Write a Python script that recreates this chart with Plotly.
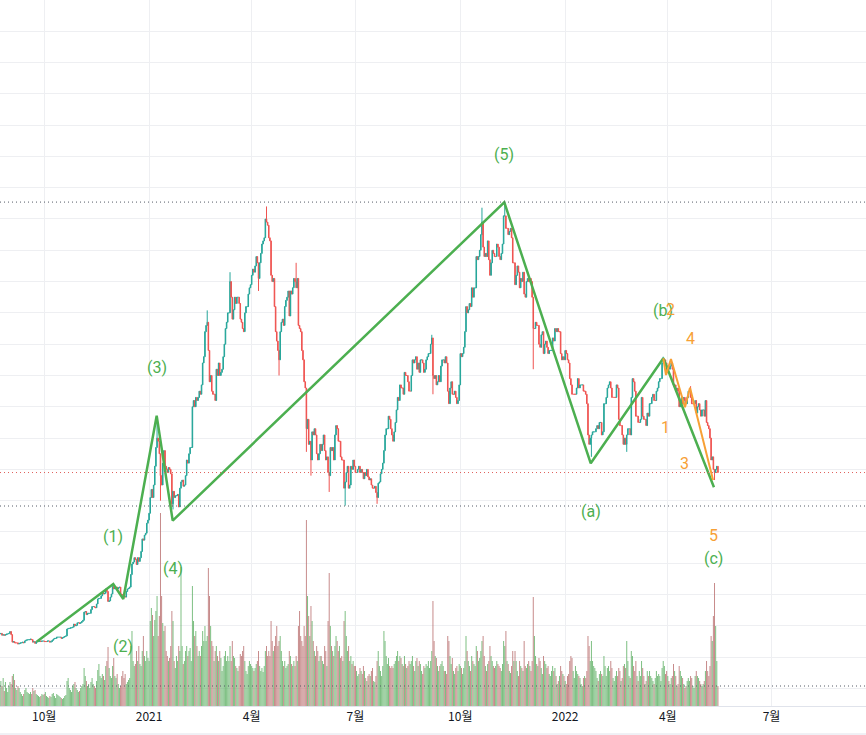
import pandas as pd
import plotly.graph_objects as go

# ---------------- data (BTC/KRW daily, millions of KRW) ----------------
close_months = [
    ("2020-08-22", [13.8, 13.7, 13.8, 13.5, 13.6, 13.5, 13.6, 13.7, 13.7, 13.8]),
    ("2020-09-01", [14.1, 13.6, 12.4, 12.5, 12.3, 12.3, 12.3, 12.1, 12.2, 12.3,
                    12.3, 12.4, 12.3, 12.6, 12.7, 12.8, 12.8, 12.8, 12.9, 12.8,
                    12.4, 12.5, 12.2, 12.5, 12.5, 12.5, 12.6, 12.5, 12.6, 12.6]),
    ("2020-10-01", [12.5, 12.5, 12.5, 12.6, 12.6, 12.4, 12.5, 12.7, 12.9, 13.0,
                    13.0, 13.2, 13.2, 13.2, 13.2, 13.0, 13.1, 13.2, 13.3, 13.4,
                    14.5, 14.6, 14.6, 14.7, 14.7, 14.8, 15.3, 15.0, 15.1, 15.5, 15.5]),
    ("2020-11-01", [15.4, 15.5, 15.7, 15.9, 17.2, 17.3, 16.8, 17.0, 17.0, 17.0,
                    17.6, 18.1, 18.1, 18.0, 17.9, 18.5, 19.3, 19.4, 19.4, 19.8,
                    20.3, 20.1, 20.2, 20.9, 20.5, 18.9, 19.0, 19.6, 20.1, 21.3]),
    ("2020-12-01", [20.9, 21.1, 21.2, 20.9, 21.1, 21.2, 20.1, 20.0, 19.9, 19.7,
                    19.6, 20.5, 20.9, 21.0, 21.2, 23.2, 24.9, 25.2, 25.9, 25.6,
                    24.8, 25.9, 25.3, 25.9, 26.9, 28.9, 28.7, 29.5, 29.8, 31.4, 31.9]),
    ("2021-01-01", [33.0, 35.5, 36.8, 35.5, 37.5, 40.5, 43.5, 45.0, 44.5, 42.5,
                    39.0, 37.5, 41.0, 43.0, 40.5, 40.0, 39.5, 40.3, 40.0, 39.3,
                    34.5, 36.5, 35.5, 35.8, 35.8, 36.0, 34.0, 37.0, 38.0, 38.3, 37.3]),
    ("2021-02-01", [37.5, 39.0, 41.5, 41.0, 42.5, 43.5, 43.5, 50.0, 51.0, 50.0,
                    51.5, 51.0, 51.5, 52.5, 52.0, 53.5, 57.0, 58.0, 62.0, 63.0,
                    63.5, 59.0, 54.0, 55.0, 52.5, 52.0, 52.0, 51.0]),
    ("2021-03-01", [56.0, 55.0, 57.0, 55.0, 55.5, 56.0, 58.0, 60.0, 62.5, 63.5,
                    65.0, 65.0, 70.0, 67.5, 64.0, 65.5, 67.5, 66.5, 67.5, 67.5,
                    66.5, 64.0, 63.5, 62.5, 62.0, 65.0, 66.0, 66.0, 68.0, 69.0, 69.5]),
    ("2021-04-01", [71.0, 72.0, 71.5, 72.5, 74.0, 73.0, 70.5, 73.0, 74.5, 76.0,
                    76.5, 77.0, 80.0, 79.5, 79.0, 77.0, 76.5, 71.0, 70.0, 70.5,
                    66.0, 62.0, 60.5, 59.0, 57.5, 62.0, 63.5, 64.0, 63.0, 66.0]),
    ("2021-05-01", [67.0, 67.5, 68.5, 64.5, 68.5, 68.0, 69.0, 70.5, 70.0, 69.0,
                    70.5, 63.0, 62.5, 62.0, 59.0, 57.5, 54.0, 53.0, 46.5, 48.0,
                    44.0, 44.5, 41.5, 46.0, 45.5, 46.5, 45.5, 42.5, 41.5, 42.5, 44.0]),
    ("2021-06-01", [43.0, 44.0, 45.5, 43.0, 41.5, 42.0, 39.5, 39.0, 43.5, 43.0,
                    43.5, 41.5, 45.5, 47.0, 46.5, 44.5, 44.5, 42.0, 41.5, 41.5,
                    37.0, 38.0, 39.5, 40.5, 37.0, 37.5, 40.5, 40.0, 41.5, 40.5]),
    ("2021-07-01", [39.5, 39.5, 40.0, 40.5, 39.5, 40.0, 39.5, 38.5, 39.5, 39.0,
                    40.0, 38.8, 38.3, 38.5, 37.5, 37.0, 37.0, 37.3, 36.3, 35.5,
                    37.8, 38.0, 39.3, 40.0, 41.0, 43.0, 45.5, 46.5, 46.5, 48.5, 48.0]),
    ("2021-08-01", [46.5, 45.5, 44.5, 46.0, 47.5, 49.5, 51.5, 51.0, 53.5, 53.0,
                    53.0, 52.0, 55.5, 55.0, 55.0, 54.0, 52.5, 52.5, 55.0, 57.5,
                    57.0, 57.5, 58.0, 56.0, 57.0, 55.5, 57.5, 57.5, 57.0, 55.5, 56.0]),
    ("2021-09-01", [57.5, 58.0, 58.5, 58.5, 60.0, 61.0, 55.0, 54.5, 55.0, 53.5,
                    54.0, 55.0, 54.0, 56.5, 57.5, 57.5, 57.0, 58.0, 57.0, 52.5,
                    50.5, 53.0, 54.0, 52.0, 52.0, 52.5, 51.5, 50.5, 51.0, 53.5]),
    ("2021-10-01", [58.5, 58.0, 58.5, 59.5, 62.0, 66.0, 65.0, 65.5, 66.5, 66.0,
                    69.0, 67.5, 69.0, 69.0, 74.0, 73.5, 74.0, 75.0, 77.5, 79.5,
                    75.5, 74.0, 74.5, 74.0, 76.5, 73.5, 71.0, 73.0, 75.0, 74.5, 74.0]),
    ("2021-11-01", [74.0, 76.0, 75.5, 74.0, 73.5, 74.5, 76.0, 80.5, 80.5, 78.5,
                    78.5, 77.5, 78.0, 78.5, 77.0, 73.0, 73.0, 69.5, 71.0, 72.5,
                    71.5, 69.0, 70.5, 70.0, 71.5, 68.0, 67.5, 70.0, 70.5, 70.0]),
    ("2021-12-01", [70.5, 70.0, 67.5, 62.5, 62.5, 63.5, 63.0, 63.0, 60.0, 59.5,
                    61.5, 62.0, 58.5, 60.0, 60.5, 59.5, 58.5, 59.0, 59.0, 59.0,
                    61.0, 60.5, 62.5, 62.0, 62.5, 62.0, 62.0, 58.5, 57.5, 58.0, 57.5]),
    ("2022-01-01", [59.0, 58.5, 57.5, 57.0, 54.5, 53.5, 52.0, 52.0, 52.0, 52.0,
                    53.0, 54.5, 53.0, 53.5, 53.5, 53.5, 52.5, 52.5, 52.0, 50.5,
                    45.5, 44.0, 45.0, 45.5, 46.0, 46.0, 46.0, 46.5, 47.0, 46.5, 47.5]),
    ("2022-02-01", [47.5, 45.5, 46.0, 50.5, 50.5, 51.5, 53.0, 53.5, 54.0, 53.0,
                    51.5, 51.5, 51.5, 51.5, 53.5, 53.0, 48.0, 47.0, 47.0, 45.5,
                    44.0, 45.0, 44.0, 45.5, 46.5, 46.5, 45.5, 51.5]),
    ("2022-03-01", [54.5, 54.0, 52.5, 48.5, 48.5, 47.5, 47.5, 48.0, 51.5, 48.5,
                    48.0, 48.0, 47.0, 49.0, 48.5, 50.5, 50.5, 51.5, 52.0, 51.0,
                    51.0, 52.5, 53.0, 54.0, 54.5, 54.5, 57.0, 57.5, 57.5, 57.0, 55.5]),
    ("2022-04-01", [56.5, 56.0, 56.5, 57.0, 56.0, 53.5, 53.5, 52.5, 53.0, 52.5,
                    50.0, 50.5, 51.5, 50.5, 51.5, 51.0, 50.5, 51.5, 52.5, 52.5,
                    51.5, 50.5, 50.5, 50.5, 51.0, 49.0, 50.0, 50.5, 49.5, 48.5]),
    ("2022-05-01", [49.5, 49.5, 48.5, 51.0, 47.5, 47.0, 46.5, 45.0, 41.5, 42.0,
                    40.0, 39.5, 40.0, 40.5, 39.5]),
]
first_open = 13.9

# daily volume (hundreds of BTC)
volume_months = [
    ("2020-08-22", [22, 18, 25, 20, 28, 15, 24, 18, 14, 20]),
    ("2020-09-01", [24, 22, 30, 32, 26, 18, 16, 20, 18, 14, 12, 10, 12, 16, 18,
                    14, 13, 12, 14, 12, 18, 15, 16, 12, 11, 10, 9, 10, 12, 11]),
    ("2020-10-01", [12, 14, 10, 9, 8, 10, 9, 12, 13, 10, 8, 12, 11, 10, 9, 8,
                    7, 8, 10, 11, 25, 28, 18, 16, 14, 20, 22, 24, 18, 16, 14]),
    ("2020-11-01", [15, 18, 20, 22, 38, 30, 25, 20, 22, 18, 24, 28, 22, 20, 18,
                    25, 36, 42, 30, 28, 32, 30, 26, 40, 45, 59, 38, 30, 28, 40]),
    ("2020-12-01", [48, 30, 28, 32, 22, 18, 20, 30, 35, 28, 32, 22, 24, 26, 28,
                    60, 75, 45, 40, 42, 55, 45, 60, 42, 40, 55, 70, 50, 45, 55, 48]),
    ("2021-01-01", [45, 85, 98, 91, 70, 86, 95, 110, 70, 90, 193, 110, 83, 75, 80,
                    55, 50, 45, 48, 60, 95, 85, 45, 38, 50, 45, 60, 55, 139, 60, 42]),
    ("2021-02-01", [45, 55, 60, 50, 55, 58, 45, 120, 85, 70, 75, 60, 50, 55,
                    50, 60, 75, 65, 80, 65, 70, 138, 110, 80, 65, 60, 45, 55]),
    ("2021-03-01", [60, 50, 45, 55, 48, 35, 40, 50, 55, 45, 50, 45, 60, 45, 65,
                    50, 48, 40, 38, 35, 40, 52, 50, 55, 60, 45, 35, 32, 40, 45, 42]),
    ("2021-04-01", [40, 38, 35, 38, 42, 45, 55, 40, 35, 38, 34, 40, 55, 60, 50,
                    55, 50, 85, 65, 55, 60, 70, 80, 60, 65, 70, 55, 45, 40, 45]),
    ("2021-05-01", [38, 40, 42, 55, 50, 42, 40, 45, 40, 50, 45, 80, 95, 70, 65,
                    60, 80, 70, 186, 110, 90, 70, 100, 85, 65, 55, 50, 60, 55, 45, 50]),
    ("2021-06-01", [50, 45, 42, 60, 55, 40, 85, 133, 80, 60, 55, 50, 60, 70, 65,
                    55, 60, 48, 50, 45, 85, 95, 70, 55, 60, 45, 50, 42, 45, 40]),
    ("2021-07-01", [40, 35, 30, 32, 38, 35, 32, 40, 35, 28, 25, 30, 32, 30, 35,
                    38, 25, 24, 30, 45, 55, 40, 35, 30, 40, 75, 65, 50, 42, 48, 40]),
    ("2021-08-01", [38, 40, 38, 42, 45, 50, 55, 45, 50, 48, 42, 40, 50, 42, 38,
                    40, 45, 42, 45, 50, 40, 35, 45, 48, 40, 45, 42, 35, 32, 40, 38]),
    ("2021-09-01", [42, 40, 45, 38, 45, 55, 105, 65, 50, 48, 40, 35, 40, 42, 45,
                    40, 35, 35, 32, 70, 65, 50, 42, 48, 35, 32, 38, 40, 35, 42]),
    ("2021-10-01", [40, 38, 32, 38, 45, 70, 55, 45, 40, 35, 50, 45, 42, 40, 60,
                    55, 45, 48, 55, 65, 70, 50, 40, 35, 42, 45, 60, 50, 45, 40, 38]),
    ("2021-11-01", [40, 45, 42, 40, 38, 35, 42, 65, 60, 75, 45, 42, 35, 33, 40,
                    55, 45, 55, 45, 35, 30, 45, 40, 38, 35, 65, 40, 38, 42, 45]),
    ("2021-12-01", [40, 35, 45, 109, 70, 50, 42, 40, 48, 45, 38, 32, 50, 45, 42,
                    38, 40, 32, 30, 35, 40, 35, 38, 30, 22, 25, 30, 40, 35, 32, 30]),
    ("2022-01-01", [25, 22, 30, 32, 45, 50, 48, 35, 28, 40, 35, 32, 30, 28, 22,
                    20, 28, 30, 28, 35, 70, 60, 45, 65, 45, 40, 38, 35, 28, 25, 32]),
    ("2022-02-01", [35, 32, 30, 50, 40, 30, 38, 40, 35, 45, 38, 28, 25, 30,
                    35, 30, 38, 35, 25, 28, 40, 42, 38, 65, 45, 30, 28, 55]),
    ("2022-03-01", [50, 40, 35, 45, 30, 25, 35, 30, 45, 38, 30, 22, 25, 35, 30,
                    35, 30, 28, 25, 22, 28, 35, 30, 32, 30, 25, 38, 45, 40, 32, 35]),
    ("2022-04-01", [30, 25, 22, 28, 30, 42, 35, 30, 20, 22, 40, 35, 30, 28, 22,
                    18, 20, 25, 28, 25, 30, 28, 20, 18, 30, 35, 30, 28, 25, 22]),
    ("2022-05-01", [20, 22, 25, 35, 45, 35, 30, 40, 70, 65, 90, 123, 80, 45, 20]),
]

# intraday extremes that reach beyond the candle bodies
wick_high = {"2021-01-08": 48.3, "2021-02-21": 65.4, "2021-03-13": 71.5,
             "2021-04-14": 82.0, "2021-05-10": 73.0, "2021-09-06": 61.5,
             "2021-10-20": 81.8, "2021-11-09": 82.7, "2022-03-28": 58.0,
             "2022-04-21": 53.3}
wick_low = {"2021-01-11": 35.0, "2021-01-21": 34.0, "2021-01-22": 33.6,
            "2021-04-07": 68.5, "2021-04-25": 55.0, "2021-05-19": 42.8,
            "2021-05-23": 39.0, "2021-06-08": 36.4, "2021-06-22": 34.2,
            "2021-07-20": 34.5, "2021-09-07": 52.0, "2021-12-04": 56.0,
            "2022-01-24": 42.0, "2022-02-24": 42.8, "2022-05-12": 38.3}

support_level = 34.15

tick_dates = ["2020-10-01", "2021-01-01", "2021-04-01", "2021-07-01", "2021-10-01",
              "2022-01-01", "2022-04-01", "2022-07-01", "2022-10-01"]
tick_labels = ["10월", "2021", "4월", "7월", "10월", "2022", "4월", "7월", "10월"]

# Elliott wave (primary degree, green)
wave_dates = ["2020-09-24 10:00", "2020-11-30 14:00", "2020-12-09 09:00",
              "2021-01-07 16:00", "2021-01-21 17:00", "2021-11-08 14:00",
              "2022-01-23 10:00", "2022-03-28 02:00", "2022-05-11 12:00"]
wave_prices = [12.48, 21.69, 19.30, 48.58, 31.81, 82.67, 40.97, 57.75, 37.14]
wave_labels = ["", "(1)", "(2)", "(3)", "(4)", "(5)", "(a)", "(b)", "(c)"]

# sub-wave impulse inside (c) (orange)
sub_dates = ["2022-03-28 02:00", "2022-03-30 10:00", "2022-04-03 19:00",
             "2022-04-16 02:00", "2022-04-20 12:00", "2022-05-10 17:00"]
sub_prices = [57.75, 55.08, 57.64, 49.92, 53.05, 38.31]
sub_labels = ["", "1", "2", "3", "4", "5"]

# ---------------- assemble candles ----------------
dates, closes, vols = [], [], []
expected = None
for (cstart, cv), (vstart, vv) in zip(close_months, volume_months):
    assert cstart == vstart and len(cv) == len(vv), cstart
    rng = pd.date_range(cstart, periods=len(cv), freq="D")
    assert rng[-1].month == rng[0].month, cstart
    if expected is not None:
        assert rng[0] == expected, cstart
    expected = rng[-1] + pd.Timedelta(days=1)
    dates.extend(rng)
    closes.extend(cv)
    vols.extend(vv)

opens = [first_open] + closes[:-1]
keys = [d.strftime("%Y-%m-%d") for d in dates]
highs = [max(o, c, wick_high.get(k, 0)) for o, c, k in zip(opens, closes, keys)]
lows = [min(o, c, wick_low.get(k, 1e9)) for o, c, k in zip(opens, closes, keys)]

UP, DOWN = "#26a69a", "#ef5350"
VUP, VDOWN = "rgba(92,174,98,0.82)", "rgba(184,108,108,0.82)"
GREEN, ORANGE = "#4caf50", "#f7a035"
GRID = "#eeeff2"
vol_colors = [VUP if c >= o else VDOWN for o, c in zip(opens, closes)]

fig = go.Figure()

fig.add_trace(go.Bar(x=dates, y=vols, marker=dict(color=vol_colors, line=dict(width=0)),
                     yaxis="y", hoverinfo="skip", showlegend=False))

fig.add_trace(go.Candlestick(
    x=dates, open=opens, high=highs, low=lows, close=closes, yaxis="y2",
    increasing=dict(line=dict(color=UP, width=1), fillcolor=UP),
    decreasing=dict(line=dict(color=DOWN, width=1), fillcolor=DOWN),
    whiskerwidth=0, hoverinfo="skip", showlegend=False))

fig.add_trace(go.Scatter(x=wave_dates, y=wave_prices, mode="lines", yaxis="y2",
                         line=dict(color=GREEN, width=2.5), hoverinfo="skip",
                         showlegend=False))
fig.add_trace(go.Scatter(x=sub_dates, y=sub_prices, mode="lines", yaxis="y2",
                         line=dict(color=ORANGE, width=2), hoverinfo="skip",
                         showlegend=False))

LABEL_FONT = "Roboto, Open Sans, sans-serif"


def add_labels(ds, ps, labels, color, offset, extra):
    for i, (d, p, t) in enumerate(zip(ds, ps, labels)):
        if not t:
            continue
        prev_p = ps[i - 1]
        is_peak = p > prev_p
        shift = offset + extra.get(t, 0)
        fig.add_annotation(x=d, y=p, xref="x", yref="y2", text=t, showarrow=False,
                           yshift=shift if is_peak else -shift,
                           font=dict(family=LABEL_FONT, size=16, color=color))


add_labels(wave_dates, wave_prices, wave_labels, GREEN, 48, {"(c)": 23})
add_labels(sub_dates, sub_prices, sub_labels, ORANGE, 49, {"1": 4, "3": 7, "5": 7})

# horizontal price lines
fig.add_shape(type="line", xref="paper", x0=0, x1=1, yref="y2", y0=max(highs), y1=max(highs),
              line=dict(color="#555b66", width=1, dash="1px,3px"))
fig.add_shape(type="line", xref="paper", x0=0, x1=1, yref="y2", y0=support_level, y1=support_level,
              line=dict(color="#555b66", width=1, dash="1px,3px"))
fig.add_shape(type="line", xref="paper", x0=0, x1=1, yref="y2", y0=closes[-1], y1=closes[-1],
              line=dict(color="#e0605c", width=1, dash="1px,3px"))
fig.add_shape(type="line", xref="paper", x0=0, x1=1, yref="y", y0=vols[-1], y1=vols[-1],
              line=dict(color="#555b66", width=1, dash="1px,3px"))
fig.add_shape(type="line", xref="paper", x0=0, x1=1, yref="paper", y0=-0.0397, y1=-0.0397,
              line=dict(color="#e0e3eb", width=1))

fig.update_layout(
    width=866, height=735,
    margin=dict(l=0, r=0, t=0, b=29),
    paper_bgcolor="white", plot_bgcolor="white",
    bargap=0.15,
    showlegend=False,
    xaxis=dict(type="date", range=["2020-08-23 05:30", "2022-09-21 21:00"],
               tickvals=tick_dates, ticktext=tick_labels, ticks="",
               showgrid=True, gridcolor=GRID, gridwidth=1,
               showline=True, linecolor="#e0e3eb", linewidth=1,
               rangeslider=dict(visible=False), zeroline=False,
               tickfont=dict(family="Noto Sans CJK KR, sans-serif", size=12, color="#131722")),
    yaxis=dict(range=[0, 706], visible=False, showgrid=False, zeroline=False, fixedrange=True),
    yaxis2=dict(range=[2.204, 114.98], overlaying="y", side="right", showticklabels=False,
                ticks="", tick0=0, dtick=5, showgrid=True, gridcolor=GRID, gridwidth=1,
                zeroline=False, showline=False),
)

fig.write_html("out.html")
